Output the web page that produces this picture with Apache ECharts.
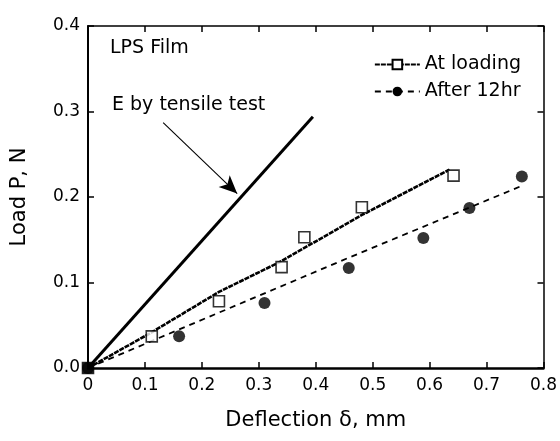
<!DOCTYPE html>
<html>
<head>
<meta charset="utf-8">
<script src="https://cdn.jsdelivr.net/npm/echarts@6/dist/echarts.min.js"></script>
<style>
  html, body { margin: 0; padding: 0; background: #fff; }
  #chart { width: 560px; height: 441px; }
</style>
</head>
<body>
<div id="chart"></div>
<script>
// measured points (deflection mm, load N)
const loadingX = [0, 0.112, 0.23, 0.34, 0.38, 0.481, 0.642];
const loadingY = [0, 0.037, 0.078, 0.118, 0.153, 0.188, 0.225];
const after12X = [0, 0.16, 0.31, 0.458, 0.589, 0.67, 0.762];
const after12Y = [0, 0.037, 0.076, 0.117, 0.152, 0.187, 0.224];
// fitted lines
const loadingFitX = [0, 0.11, 0.23, 0.337, 0.481, 0.635];
const loadingFitY = [0, 0.041, 0.089, 0.124, 0.179, 0.232];
const after12FitX = [0, 0.458, 0.758];
const after12FitY = [0, 0.129, 0.212];
const tensileX = [0, 0.395];
const tensileY = [0, 0.294];
const xTicks = ['0', '0.1', '0.2', '0.3', '0.4', '0.5', '0.6', '0.7', '0.8'];

const FONT = 'DejaVu Sans, Liberation Sans, sans-serif';
const pairs = (xs, ys) => xs.map((x, i) => [x, ys[i]]);

const chart = echarts.init(document.getElementById('chart'), null, { renderer: 'canvas' });

// ticks point inward on all four sides, frame drawn by the axis lines
function xAxisDef(pos, lineW) {
  return {
    type: 'value', position: pos, min: 0, max: 0.8, interval: 0.1,
    axisLine: { show: true, onZero: false, lineStyle: { color: '#000', width: lineW } },
    axisTick: { show: true, inside: true, length: 6, lineStyle: { color: '#000', width: 1.5 } },
    splitLine: { show: false },
  };
}
function yAxisDef(pos, lineW) {
  return {
    type: 'value', position: pos, min: 0, max: 0.4, interval: 0.1,
    axisLine: { show: true, onZero: false, lineStyle: { color: '#000', width: lineW } },
    axisTick: { show: true, inside: true, length: 6, lineStyle: { color: '#000', width: 1.5 } },
    splitLine: { show: false },
  };
}

chart.setOption({
  animation: false,
  backgroundColor: '#fff',
  textStyle: { fontFamily: FONT },
  grid: { left: 88, right: 15, top: 26, bottom: 73 },
  legend: {
    data: ['At loading', 'After 12hr'],
    orient: 'vertical', right: 34, top: 50, itemGap: 8,
    itemWidth: 45, itemHeight: 12,
    textStyle: { fontFamily: FONT, fontSize: 19, color: '#000', padding: [0, 0, 0, 0] },
  },
  xAxis: [
    Object.assign(xAxisDef('bottom', 2.5), {
      name: 'Deflection δ, mm', nameLocation: 'middle', nameGap: 42,
      nameTextStyle: { fontFamily: FONT, fontSize: 21, color: '#000' },
      axisLabel: { color: '#000', fontSize: 17, fontFamily: FONT, margin: 9,
        formatter: (v) => xTicks[Math.round(v * 10)] },
    }),
    Object.assign(xAxisDef('top', 1.5), { axisLabel: { show: false } }),
  ],
  yAxis: [
    Object.assign(yAxisDef('left', 2), {
      name: 'Load P, N', nameLocation: 'middle', nameGap: 58,
      nameTextStyle: { fontFamily: FONT, fontSize: 21, color: '#000' },
      axisLabel: { color: '#000', fontSize: 17, fontFamily: FONT, margin: 8,
        formatter: (v) => v.toFixed(1) },
    }),
    Object.assign(yAxisDef('right', 1.5), { axisLabel: { show: false } }),
  ],
  series: [
    {
      // tensile-test line with annotation arrow
      type: 'line', silent: true, symbol: 'none',
      data: pairs(tensileX, tensileY),
      lineStyle: { color: '#000', width: 3 },
      markLine: {
        silent: true, symbol: ['none', 'arrow'], symbolSize: [12, 18],
        lineStyle: { color: '#000', width: 1.1, type: 'solid' },
        itemStyle: { color: '#000' },
        label: { show: false },
        data: [[{ coord: [0.132, 0.287] }, { coord: [0.262, 0.204] }]],
      },
    },
    {
      name: 'At loading', type: 'line', symbol: 'emptyRect', symbolSize: 9,
      data: pairs(loadingFitX, loadingFitY).map((p) => ({ value: p, symbol: 'none' })),
      itemStyle: { color: '#000', borderColor: '#000', borderWidth: 1.5 },
      lineStyle: { color: '#000', width: 2.6, type: [5, 1] },
    },
    {
      name: 'After 12hr', type: 'line', symbol: 'circle', symbolSize: 11,
      data: after12FitX.map((x, i) => ({ value: [x, after12FitY[i]], symbol: 'none' })),
      itemStyle: { color: '#000' },
      lineStyle: { color: '#000', width: 1.8, type: [6, 5] },
    },
    {
      type: 'scatter', symbol: 'circle', symbolSize: 12,
      data: pairs(after12X, after12Y),
      itemStyle: { color: '#000' }, z: 3,
    },
    {
      type: 'scatter', symbol: 'rect', symbolSize: 11,
      data: pairs(loadingX, loadingY).map((p) => ({
        value: p,
        itemStyle: p[0] === 0 ? { color: '#000' } : undefined,
      })),
      itemStyle: { color: '#fff', borderColor: '#000', borderWidth: 1.6 }, z: 4,
    },
  ],
  graphic: [
    { type: 'text', left: 110, top: 39,
      style: { text: 'LPS Film', font: '19px ' + FONT, fill: '#000' } },
    { type: 'text', left: 112, top: 96,
      style: { text: 'E by tensile test', font: '19px ' + FONT, fill: '#000' } },
  ],
});
</script>
</body>
</html>
